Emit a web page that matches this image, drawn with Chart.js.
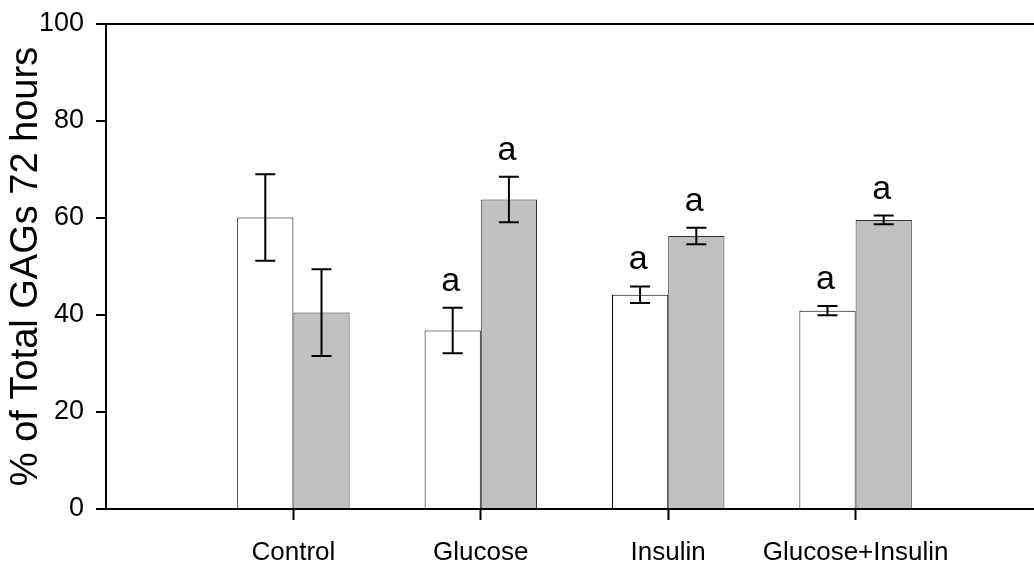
<!DOCTYPE html>
<html>
<head>
<meta charset="utf-8">
<script src="https://cdn.jsdelivr.net/npm/chart.js@4.4.0/dist/chart.umd.min.js"></script>
<style>
  html, body { margin: 0; padding: 0; background: #fff; overflow: hidden; }
  #wrap { width: 1034px; height: 569px; overflow: hidden; }
</style>
</head>
<body>
<div id="wrap"><canvas id="barChart" width="1060" height="569"></canvas></div>
<script>
const categorias = ["Control", "Glucose", "Insulin", "Glucose+Insulin"];
const yTicks = [0, 20, 40, 60, 80, 100];

// barras brancas e cinzas
const valoresBrancos = [60.1, 36.8, 44.2, 40.9];
const errosBrancos = [8.9, 4.7, 1.7, 0.95];
const letrasBrancas = ["", "a", "a", "a"];

const valoresCinzas = [40.5, 63.8, 56.3, 59.6];
const errosCinzas = [8.95, 4.7, 1.7, 0.9];
const letrasCinzas = ["", "a", "a", "a"];

// uma categoria vazia em cada ponta, como no gráfico original
const pad = arr => [null].concat(arr, [null]);
const rotulos = [""].concat(categorias, [""]);

const fonte = "'Liberation Sans', Arial, Helvetica, sans-serif";

const errorBars = {
  id: 'errorBars',
  afterDatasetsDraw(chart) {
    const ctx = chart.ctx;
    const y = chart.scales.y;
    chart.data.datasets.forEach((ds, i) => {
      const meta = chart.getDatasetMeta(i);
      meta.data.forEach((bar, j) => {
        const v = ds.data[j];
        if (v == null) return;
        const e = ds.erros[j];
        const top = y.getPixelForValue(v + e);
        const bottom = y.getPixelForValue(v - e);
        ctx.save();
        ctx.strokeStyle = '#000';
        ctx.lineWidth = 2;
        ctx.beginPath();
        ctx.moveTo(bar.x, top); ctx.lineTo(bar.x, bottom);
        ctx.moveTo(bar.x - 10, top); ctx.lineTo(bar.x + 10, top);
        ctx.moveTo(bar.x - 10, bottom); ctx.lineTo(bar.x + 10, bottom);
        ctx.stroke();
        if (ds.letras[j]) {
          ctx.fillStyle = '#000';
          ctx.font = "34px " + fonte;
          ctx.textAlign = 'center';
          ctx.textBaseline = 'alphabetic';
          ctx.fillText(ds.letras[j], bar.x - 2, top - 17);
        }
        ctx.restore();
      });
    });
  }
};

const ctx = document.getElementById('barChart').getContext('2d');

const barChart = new Chart(ctx, {
  type: 'bar',
  data: {
    labels: rotulos,
    datasets: [
      {
        data: pad(valoresBrancos),
        erros: pad(errosBrancos),
        letras: pad(letrasBrancas),
        backgroundColor: '#ffffff',
        borderColor: '#000000',
        borderWidth: 1,
      },
      {
        data: pad(valoresCinzas),
        erros: pad(errosCinzas),
        letras: pad(letrasCinzas),
        backgroundColor: '#c0c0c0',
        borderColor: '#333333',
        borderWidth: 1,
      },
    ],
  },
  options: {
    responsive: false,
    animation: false,
    categoryPercentage: 0.6,
    barPercentage: 1.0,
    layout: { padding: { top: 24, left: 0, right: 0, bottom: 0 } },
    plugins: {
      legend: { display: false },
      tooltip: { enabled: false },
    },
    scales: {
      x: {
        offset: false,
        border: { display: true, color: '#000', width: 2 },
        grid: {
          offset: false,
          drawOnChartArea: false,
          tickLength: 11,
          tickWidth: 2,
          tickColor: c => (c.index > 0 && c.index < rotulos.length - 1) ? '#000' : 'rgba(0,0,0,0)',
        },
        ticks: {
          color: '#000',
          font: { family: fonte, size: 26 },
          padding: 17,
          maxRotation: 0,
          autoSkip: false,
        },
        afterFit: s => { s.height = 60; },
      },
      y: {
        min: 0,
        max: 100,
        afterBuildTicks: s => { s.ticks = yTicks.map(v => ({ value: v })); },
        border: { display: true, color: '#000', width: 2 },
        grid: {
          color: c => c.tick && c.tick.value === 100 ? '#000' : 'rgba(0,0,0,0)',
          lineWidth: 2,
          tickLength: 10,
          tickWidth: 2,
          tickColor: '#000',
        },
        ticks: {
          color: '#000',
          font: { family: fonte, size: 27, lineHeight: 0.8 },
          padding: 12,
        },
        title: {
          display: true,
          text: '% of Total GAGs 72 hours',
          color: '#000',
          font: { family: fonte, size: 38 },
          padding: { top: 4, bottom: 0 },
        },
        afterFit: s => { s.width = 106; },
      },
    },
  },
  plugins: [errorBars],
});
</script>
</body>
</html>
